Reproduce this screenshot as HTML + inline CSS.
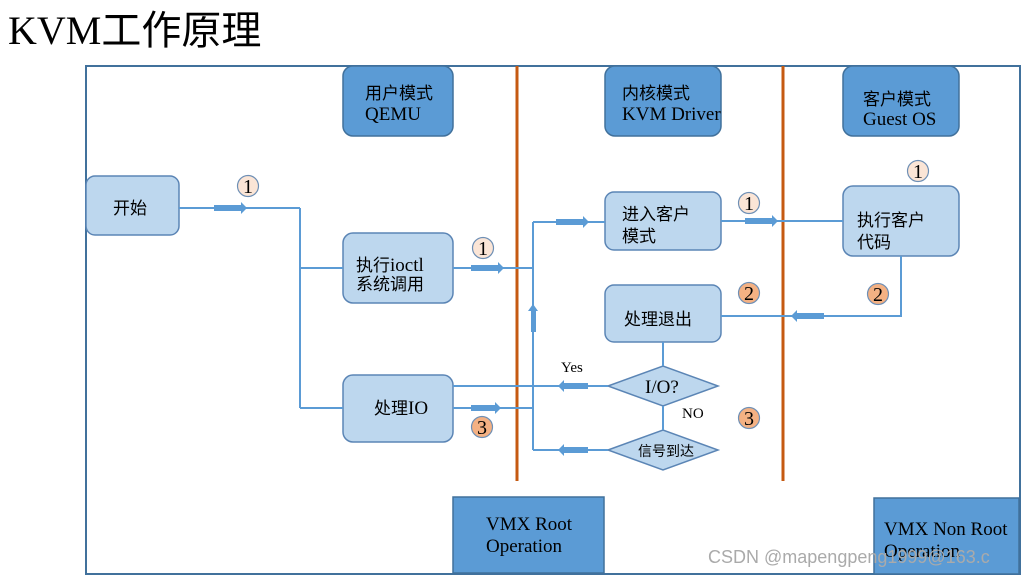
<!DOCTYPE html>
<html><head><meta charset="utf-8"><style>
html,body{margin:0;padding:0;background:#fff;width:1023px;height:576px;overflow:hidden}
svg{display:block}
text{font-family:"Liberation Serif","Noto Sans CJK SC",serif;fill:#000}
.cn{font-family:"Liberation Sans","Noto Sans CJK SC",sans-serif}
</style></head><body>
<svg width="1023" height="576" viewBox="0 0 1023 576">
<text x="8" y="44" font-size="40">KVM<tspan font-family="Noto Sans CJK SC">工作原理</tspan></text>
<rect x="86" y="66" width="934" height="508" fill="none" stroke="#41719c" stroke-width="2"/>
<line x1="517" y1="66" x2="517" y2="481" stroke="#c55a11" stroke-width="3"/>
<line x1="783" y1="66" x2="783" y2="481" stroke="#c55a11" stroke-width="3"/>

<g fill="#5b9bd5" stroke="#41719c" stroke-width="1.5">
<rect x="343" y="66" width="110" height="70" rx="10"/>
<rect x="605" y="66" width="116" height="70" rx="10"/>
<rect x="843" y="66" width="116" height="70" rx="10"/>
<rect x="453" y="497" width="151" height="76"/>
<rect x="874" y="498" width="145" height="76"/>
</g>
<g fill="#bdd7ee" stroke="#5b85b5" stroke-width="1.5">
<rect x="86" y="176" width="93" height="59" rx="9"/>
<rect x="343" y="233" width="110" height="70" rx="10"/>
<rect x="343" y="375" width="110" height="67" rx="10"/>
<rect x="605" y="192" width="116" height="58" rx="9"/>
<rect x="605" y="285" width="116" height="57" rx="9"/>
<rect x="843" y="186" width="116" height="70" rx="10"/>
<polygon points="608,386 663,366 718,386 663,406"/>
<polygon points="608,450 663,430 718,450 663,470"/>
</g>

<g stroke="#5b9bd5" stroke-width="2" fill="none">
<polyline points="179,208 300,208"/>
<line x1="300" y1="208" x2="300" y2="408"/>
<line x1="300" y1="268" x2="343" y2="268"/>
<line x1="300" y1="408" x2="343" y2="408"/>
<line x1="453" y1="268" x2="533" y2="268"/>
<line x1="533" y1="222" x2="533" y2="450"/>
<line x1="533" y1="222" x2="605" y2="222"/>
<line x1="721" y1="221" x2="843" y2="221"/>
<polyline points="901,256 901,316 721,316"/>
<line x1="663" y1="342" x2="663" y2="366"/>
<line x1="663" y1="406" x2="663" y2="430"/>
<line x1="608" y1="386" x2="453" y2="386"/>
<line x1="453" y1="408" x2="533" y2="408"/>
<line x1="608" y1="450" x2="533" y2="450"/>
</g>
<g fill="#5b9bd5">
<rect x="214" y="205" width="28" height="6"/><polygon points="241,202 247,208 241,214"/>
<rect x="471" y="265" width="28" height="6"/><polygon points="498,262 504,268 498,274"/>
<rect x="556" y="219" width="28" height="6"/><polygon points="583,216 589,222 583,228"/>
<rect x="745" y="218" width="28" height="6"/><polygon points="772,215 778,221 772,227"/>
<rect x="796" y="313" width="28" height="6"/><polygon points="797,310 791,316 797,322"/>
<rect x="563" y="383" width="25" height="6"/><polygon points="564,380 558,386 564,392"/>
<rect x="563" y="447" width="25" height="6"/><polygon points="564,444 558,450 564,456"/>
<rect x="471" y="405" width="25" height="6"/><polygon points="495,402 501,408 495,414"/>
<rect x="531" y="310" width="5" height="22"/><polygon points="528,311 533,304 538,311"/>
</g>

<g stroke="#6e8fb5" stroke-width="1.2">
<circle cx="248" cy="186" r="10.5" fill="#fbe5d6"/>
<circle cx="483" cy="248" r="10.5" fill="#fbe5d6"/>
<circle cx="749" cy="203" r="10.5" fill="#fbe5d6"/>
<circle cx="918" cy="171" r="10.5" fill="#fbe5d6"/>
<circle cx="749" cy="293" r="10.5" fill="#f4b183"/>
<circle cx="878" cy="294" r="10.5" fill="#f4b183"/>
<circle cx="749" cy="418" r="10.5" fill="#f4b183"/>
<circle cx="482" cy="427" r="10.5" fill="#f4b183"/>
</g>
<g font-size="20" text-anchor="middle">
<text x="248" y="193">1</text><text x="483" y="255">1</text><text x="749" y="210">1</text><text x="918" y="178">1</text>
<text x="749" y="300">2</text><text x="878" y="301">2</text><text x="749" y="425">3</text><text x="482" y="434">3</text>
</g>

<g font-size="19">
<text x="365" y="99" class="cn" font-size="17">用户模式</text><text x="365" y="120">QEMU</text>
<text x="622" y="99" class="cn" font-size="17">内核模式</text><text x="622" y="120">KVM Driver</text>
<text x="863" y="105" class="cn" font-size="17">客户模式</text><text x="863" y="125">Guest OS</text>
<text x="113" y="214" class="cn" font-size="17">开始</text>
<text x="356" y="271" class="cn" font-size="17">执行<tspan font-family="Liberation Serif" font-size="19">ioctl</tspan></text>
<text x="356" y="290" class="cn" font-size="17">系统调用</text>
<text x="374" y="414" class="cn" font-size="17">处理<tspan font-family="Liberation Serif" font-size="19">IO</tspan></text>
<text x="622" y="220" class="cn" font-size="17">进入客户</text><text x="622" y="242" class="cn" font-size="17">模式</text>
<text x="624" y="325" class="cn" font-size="17">处理退出</text>
<text x="857" y="226" class="cn" font-size="17">执行客户</text><text x="857" y="248" class="cn" font-size="17">代码</text>
<text x="645" y="393">I/O?</text>
<text x="486" y="530">VMX Root</text><text x="486" y="552">Operation</text>
<text x="884" y="535">VMX Non Root</text><text x="884" y="557">Operation</text>
</g>
<text x="561" y="372" font-size="15">Yes</text>
<text x="682" y="418" font-size="15">NO</text>
<text x="638" y="456" font-size="14" class="cn">信号到达</text>
<text x="708" y="563" font-size="18" style="fill:#aaa;font-family:'Liberation Sans',sans-serif">CSDN @mapengpeng1999@163.c</text>
</svg>
</body></html>
